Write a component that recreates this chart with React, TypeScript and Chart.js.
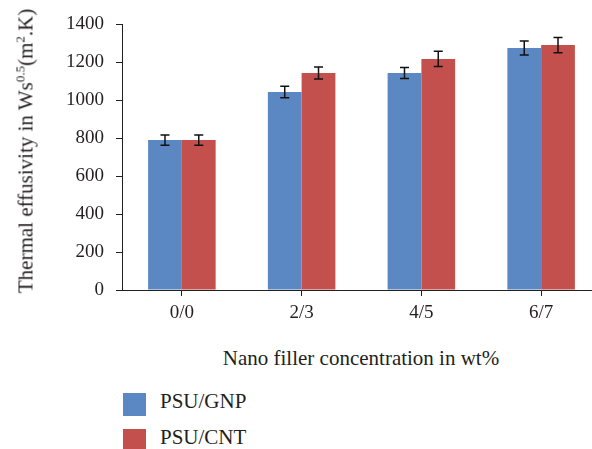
import React, { useEffect, useRef } from "react";
import { Chart, registerables } from "chart.js";

Chart.register(...registerables);

const categories = ["0/0", "2/3", "4/5", "6/7"];
const gnpValues = [789, 1042, 1142, 1274];
const cntValues = [789, 1142, 1216, 1289];
const gnpErrors = [27, 30, 29, 37];
const cntErrors = [27, 32, 40, 40];
const seriesNames = ["PSU/GNP", "PSU/CNT"];
const seriesColors = ["#5b88c2", "#c3504c"];
const yMin = 0;
const yMax = 1400;
const yStep = 200;

const FONT = "'Liberation Serif', 'Times New Roman', serif";
const TEXT = "#231f20";

const errorBarPlugin = {
  id: "errorBars",
  afterDatasetsDraw(chart: any) {
    const ctx = chart.ctx;
    const y = chart.scales.y;
    const errs = [gnpErrors, cntErrors];
    ctx.save();
    ctx.strokeStyle = "#111";
    ctx.lineWidth = 1.5;
    chart.data.datasets.forEach((ds: any, i: number) => {
      const meta = chart.getDatasetMeta(i);
      meta.data.forEach((bar: any, j: number) => {
        const v = ds.data[j];
        const e = errs[i][j];
        const x = bar.x;
        const yt = y.getPixelForValue(v + e);
        const yb = y.getPixelForValue(v - e);
        const cap = 4.5;
        ctx.beginPath();
        ctx.moveTo(x, yt);
        ctx.lineTo(x, yb);
        ctx.moveTo(x - cap, yt);
        ctx.lineTo(x + cap, yt);
        ctx.moveTo(x - cap, yb);
        ctx.lineTo(x + cap, yb);
        ctx.stroke();
      });
    });
    ctx.restore();
  },
};

export default function App() {
  const ref = useRef<HTMLCanvasElement>(null);

  useEffect(() => {
    if (!ref.current) return;
    const chart = new Chart(ref.current, {
      type: "bar",
      data: {
        labels: categories,
        datasets: [
          {
            label: seriesNames[0],
            data: gnpValues,
            backgroundColor: seriesColors[0],
            barPercentage: 1,
            categoryPercentage: 0.564,
          },
          {
            label: seriesNames[1],
            data: cntValues,
            backgroundColor: seriesColors[1],
            barPercentage: 1,
            categoryPercentage: 0.564,
          },
        ],
      },
      options: {
        animation: false,
        responsive: true,
        maintainAspectRatio: false,
        layout: { padding: { top: 24, left: 0, right: 0, bottom: 0 } },
        plugins: {
          legend: { display: false },
          tooltip: { enabled: false },
        },
        scales: {
          x: {
            offset: true,
            afterFit: (scale: any) => {
              scale.height = 40;
            },
            grid: {
              offset: false,
              drawOnChartArea: false,
              drawTicks: true,
              tickLength: 6,
              color: TEXT,
            },
            border: { display: true, color: TEXT, width: 1 },
            ticks: {
              color: TEXT,
              padding: 6,
              font: { family: FONT, size: 19 },
            },
          },
          y: {
            min: yMin,
            max: yMax,
            afterFit: (scale: any) => {
              scale.width = 122;
            },
            grid: {
              drawOnChartArea: false,
              drawTicks: true,
              tickLength: 6,
              color: TEXT,
            },
            border: { display: true, color: TEXT, width: 1 },
            ticks: {
              stepSize: yStep,
              color: TEXT,
              padding: 12,
              font: { family: FONT, size: 19 },
              callback: (v: any) => String(v),
            },
          },
        },
      },
      plugins: [errorBarPlugin],
    });
    return () => chart.destroy();
  }, []);

  const textStyle: React.CSSProperties = {
    position: "absolute",
    fontFamily: FONT,
    color: TEXT,
    whiteSpace: "nowrap",
  };

  return (
    <div
      style={{
        position: "fixed",
        left: 0,
        top: 0,
        width: 592,
        height: 449,
        overflow: "hidden",
        background: "#fff",
      }}
    >
      <div style={{ position: "absolute", left: 0, top: 0, width: 601, height: 330 }}>
        <canvas ref={ref} />
      </div>
      <div
        style={{
          ...textStyle,
          left: 23,
          top: 151,
          fontSize: 21,
          lineHeight: "21px",
          transform: "translate(-50%, -50%) rotate(-90deg)",
        }}
      >
        Thermal effusivity in Ws
        <sup style={{ fontSize: 13, verticalAlign: "8px" }}>0.5</sup>(m
        <sup style={{ fontSize: 13, verticalAlign: "8px" }}>2</sup>.K)
      </div>
      <div
        style={{
          ...textStyle,
          left: 361,
          top: 348,
          fontSize: 21,
          lineHeight: "21px",
          transform: "translateX(-50%)",
        }}
      >
        Nano filler concentration in wt%
      </div>
      {seriesNames.map((name, i) => (
        <React.Fragment key={name}>
          <div
            style={{
              position: "absolute",
              left: 123,
              top: 393 + i * 36,
              width: 23,
              height: 23,
              background: seriesColors[i],
            }}
          />
          <div
            style={{
              ...textStyle,
              left: 160,
              top: 391 + i * 36,
              fontSize: 21,
              lineHeight: "21px",
            }}
          >
            {name}
          </div>
        </React.Fragment>
      ))}
    </div>
  );
}
